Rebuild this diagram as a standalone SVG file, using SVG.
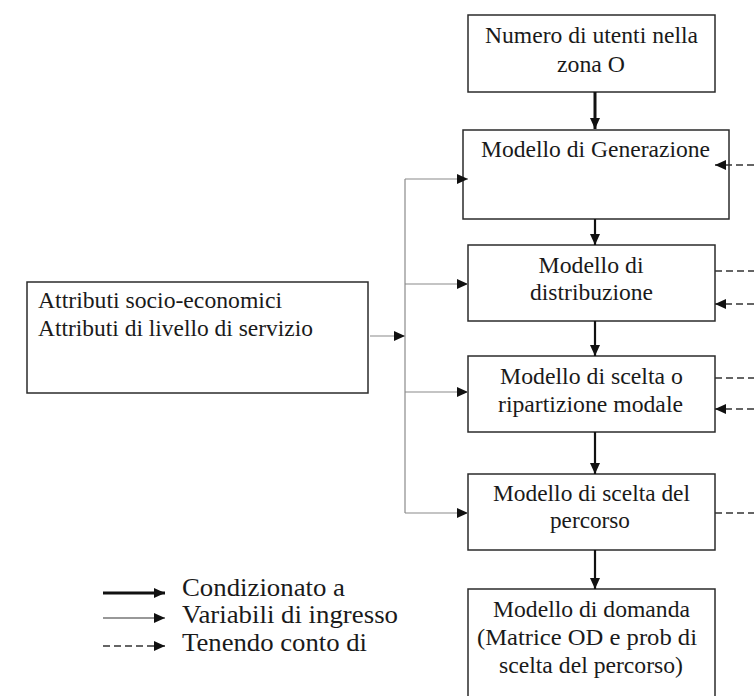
<svg xmlns="http://www.w3.org/2000/svg" width="754" height="696" viewBox="0 0 754 696">
  <style>
    .box { fill: #ffffff; stroke: #2b2b2b; stroke-width: 1.5; }
    text { font-family: 'Liberation Serif', serif; fill: #1a1a1a; }
    .lbl { font-size: 23.5px; }
    .mid { text-anchor: middle; }
    .leg { font-size: 26px; }
    .strong { stroke: #111111; stroke-width: 2.2; fill: none; }
    .thick { stroke: #111111; stroke-width: 3; fill: none; }
    .thin { stroke: #8a8a8a; stroke-width: 1.2; fill: none; }
    .dash { stroke: #333333; stroke-width: 1.3; stroke-dasharray: 7 4; fill: none; }
  </style>
  <defs>
    <marker id="head" markerUnits="userSpaceOnUse" markerWidth="12" markerHeight="10" refX="11" refY="5" orient="auto">
      <path d="M0,0 L11,5 L0,10 Z" fill="#111111"/>
    </marker>
  </defs>
  <rect width="754" height="696" fill="#ffffff"/>

  <g id="utenti">
    <rect class="box" x="468" y="15" width="247" height="77"/>
    <text class="lbl mid" x="591.5" y="43" textLength="213" lengthAdjust="spacingAndGlyphs">Numero di utenti nella</text>
    <text class="lbl mid" x="591" y="72" textLength="68" lengthAdjust="spacingAndGlyphs">zona O</text>
  </g>

  <g id="generazione">
    <rect class="box" x="463" y="130" width="266" height="89"/>
    <text class="lbl mid" x="595.5" y="157" textLength="229" lengthAdjust="spacingAndGlyphs">Modello di Generazione</text>
  </g>

  <g id="distribuzione">
    <rect class="box" x="468" y="245" width="247" height="76"/>
    <text class="lbl mid" x="591" y="273" textLength="105" lengthAdjust="spacingAndGlyphs">Modello di</text>
    <text class="lbl mid" x="591.5" y="300" textLength="123" lengthAdjust="spacingAndGlyphs">distribuzione</text>
  </g>

  <g id="scelta-modale">
    <rect class="box" x="468" y="356" width="247" height="76"/>
    <text class="lbl mid" x="591.5" y="384" textLength="183" lengthAdjust="spacingAndGlyphs">Modello di scelta o</text>
    <text class="lbl mid" x="590.5" y="412" textLength="185" lengthAdjust="spacingAndGlyphs">ripartizione modale</text>
  </g>

  <g id="scelta-percorso">
    <rect class="box" x="468" y="474" width="247" height="76"/>
    <text class="lbl mid" x="591.5" y="501" textLength="197" lengthAdjust="spacingAndGlyphs">Modello di scelta del</text>
    <text class="lbl mid" x="590" y="528" textLength="80" lengthAdjust="spacingAndGlyphs">percorso</text>
  </g>

  <g id="domanda">
    <rect class="box" x="468" y="589" width="247" height="120"/>
    <text class="lbl mid" x="591.5" y="617" textLength="197" lengthAdjust="spacingAndGlyphs">Modello di domanda</text>
    <text class="lbl mid" x="587" y="645" textLength="220" lengthAdjust="spacingAndGlyphs">(Matrice OD e prob di</text>
    <text class="lbl mid" x="591" y="673" textLength="184" lengthAdjust="spacingAndGlyphs">scelta del percorso)</text>
  </g>

  <g id="attributi">
    <rect class="box" x="27" y="282" width="341" height="111"/>
    <text class="lbl" x="38" y="308" textLength="244" lengthAdjust="spacingAndGlyphs">Attributi socio-economici</text>
    <text class="lbl" x="38" y="336" textLength="275" lengthAdjust="spacingAndGlyphs">Attributi di livello di servizio</text>
  </g>

  <!-- connectors drawn above the boxes so heads overlapping an edge stay visible -->
  <g id="connectors">
    <!-- main chain -->
    <line class="thick" x1="595" y1="92" x2="595" y2="129" marker-end="url(#head)"/>
    <line class="strong" x1="595" y1="219" x2="595" y2="245" marker-end="url(#head)"/>
    <line class="strong" x1="595" y1="321" x2="595" y2="356" marker-end="url(#head)"/>
    <line class="strong" x1="595" y1="432" x2="595" y2="474" marker-end="url(#head)"/>
    <line class="strong" x1="595" y1="550" x2="595" y2="589" marker-end="url(#head)"/>

    <!-- input attributes feeding each model -->
    <line class="thin" x1="370" y1="336" x2="405" y2="336" marker-end="url(#head)"/>
    <line class="thin" x1="405" y1="179" x2="405" y2="513"/>
    <line class="thin" x1="405" y1="179" x2="468" y2="179" marker-end="url(#head)"/>
    <line class="thin" x1="405" y1="284" x2="468" y2="284" marker-end="url(#head)"/>
    <line class="thin" x1="405" y1="392" x2="468" y2="392" marker-end="url(#head)"/>
    <line class="thin" x1="405" y1="513" x2="468" y2="513" marker-end="url(#head)"/>

    <!-- feedback on the right edge -->
    <line class="dash" x1="754" y1="165" x2="715" y2="165" marker-end="url(#head)"/>
    <line class="dash" x1="715" y1="271" x2="754" y2="271"/>
    <line class="dash" x1="754" y1="304" x2="715" y2="304" marker-end="url(#head)"/>
    <line class="dash" x1="715" y1="378" x2="754" y2="378"/>
    <line class="dash" x1="754" y1="409" x2="715" y2="409" marker-end="url(#head)"/>
    <line class="dash" x1="715" y1="513" x2="754" y2="513"/>
  </g>

  <g id="legenda">
    <line class="thick" x1="103" y1="593" x2="165" y2="593" marker-end="url(#head)"/>
    <line class="thin" x1="103" y1="618" x2="165" y2="618" marker-end="url(#head)" style="stroke:#333333"/>
    <line class="dash" x1="103" y1="646" x2="165" y2="646" marker-end="url(#head)"/>
    <text class="leg" x="182" y="596" textLength="163" lengthAdjust="spacingAndGlyphs">Condizionato a</text>
    <text class="leg" x="182" y="623" textLength="216" lengthAdjust="spacingAndGlyphs">Variabili di ingresso</text>
    <text class="leg" x="182" y="651" textLength="185" lengthAdjust="spacingAndGlyphs">Tenendo conto di</text>
  </g>
</svg>
